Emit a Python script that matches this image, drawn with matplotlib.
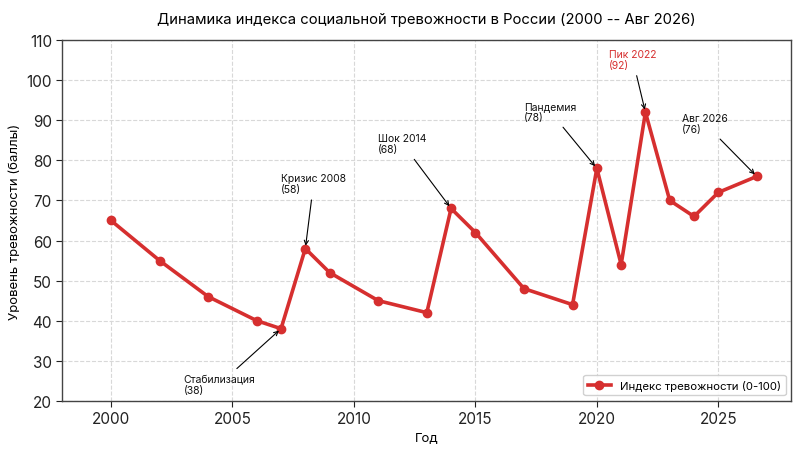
import matplotlib
matplotlib.use("Agg")
import matplotlib.pyplot as plt

years = [2000, 2002, 2004, 2006, 2007, 2008, 2009, 2011, 2013, 2014, 2015,
         2017, 2019, 2020, 2021, 2022, 2023, 2024, 2025, 2026 + 7/12]
values = [65, 55, 46, 40, 38, 58, 52, 45, 42, 68, 62, 48, 44, 78, 54, 92, 70, 66, 72, 76]

ann_labels = ["Стабилизация\n(38)", "Кризис 2008\n(58)", "Шок 2014\n(68)",
              "Пандемия\n(78)", "Пик 2022\n(92)", "Авг 2026\n(76)"]
ann_xy = [(2007, 38), (2008, 58), (2014, 68), (2020, 78), (2022, 92), (2026 + 7/12, 76)]
ann_text = [(2003, 22), (2007, 72), (2011, 82), (2017, 90), (2020.5, 103), (2023.5, 87)]
ann_colors = ["#111111", "#111111", "#111111", "#111111", "#d62f2f", "#111111"]

plt.rcParams['font.family'] = ['Inter', 'DejaVu Sans']

fig, ax = plt.subplots(figsize=(8, 4.52), dpi=100)
fig.subplots_adjust(left=0.078, right=0.989, top=0.909, bottom=0.111)

red = "#d62f2f"
ax.plot(years, values, color=red, lw=2.6, marker='o', ms=6,
        label="Индекс тревожности (0-100)", zorder=3)

for lab, xy, xt, c in zip(ann_labels, ann_xy, ann_text, ann_colors):
    ax.annotate(lab, xy=xy, xytext=xt, fontsize=7.5, color=c,
                ha='left', va='baseline',
                arrowprops=dict(arrowstyle='->', color='black', lw=0.8))

ax.set_xlim(1998, 2028)
ax.set_ylim(20, 110)
ax.set_xticks([2000, 2005, 2010, 2015, 2020, 2025])
ax.set_yticks(range(20, 111, 10))
ax.tick_params(labelsize=11, colors='#222222', length=4)
ax.grid(True, ls='--', color='#d8d8d8', lw=0.8)
for s in ax.spines.values():
    s.set_color('#444444')
    s.set_linewidth(1.0)

ax.set_xlabel("Год", fontsize=9.5)
ax.set_ylabel("Уровень тревожности (баллы)", fontsize=9.5)
ax.set_title("Динамика индекса социальной тревожности в России (2000 -- Авг 2026)",
             fontsize=10.7, pad=12)
ax.legend(loc='lower right', fontsize=8.2, framealpha=0.9)

fig.savefig("out.png", dpi=100)
